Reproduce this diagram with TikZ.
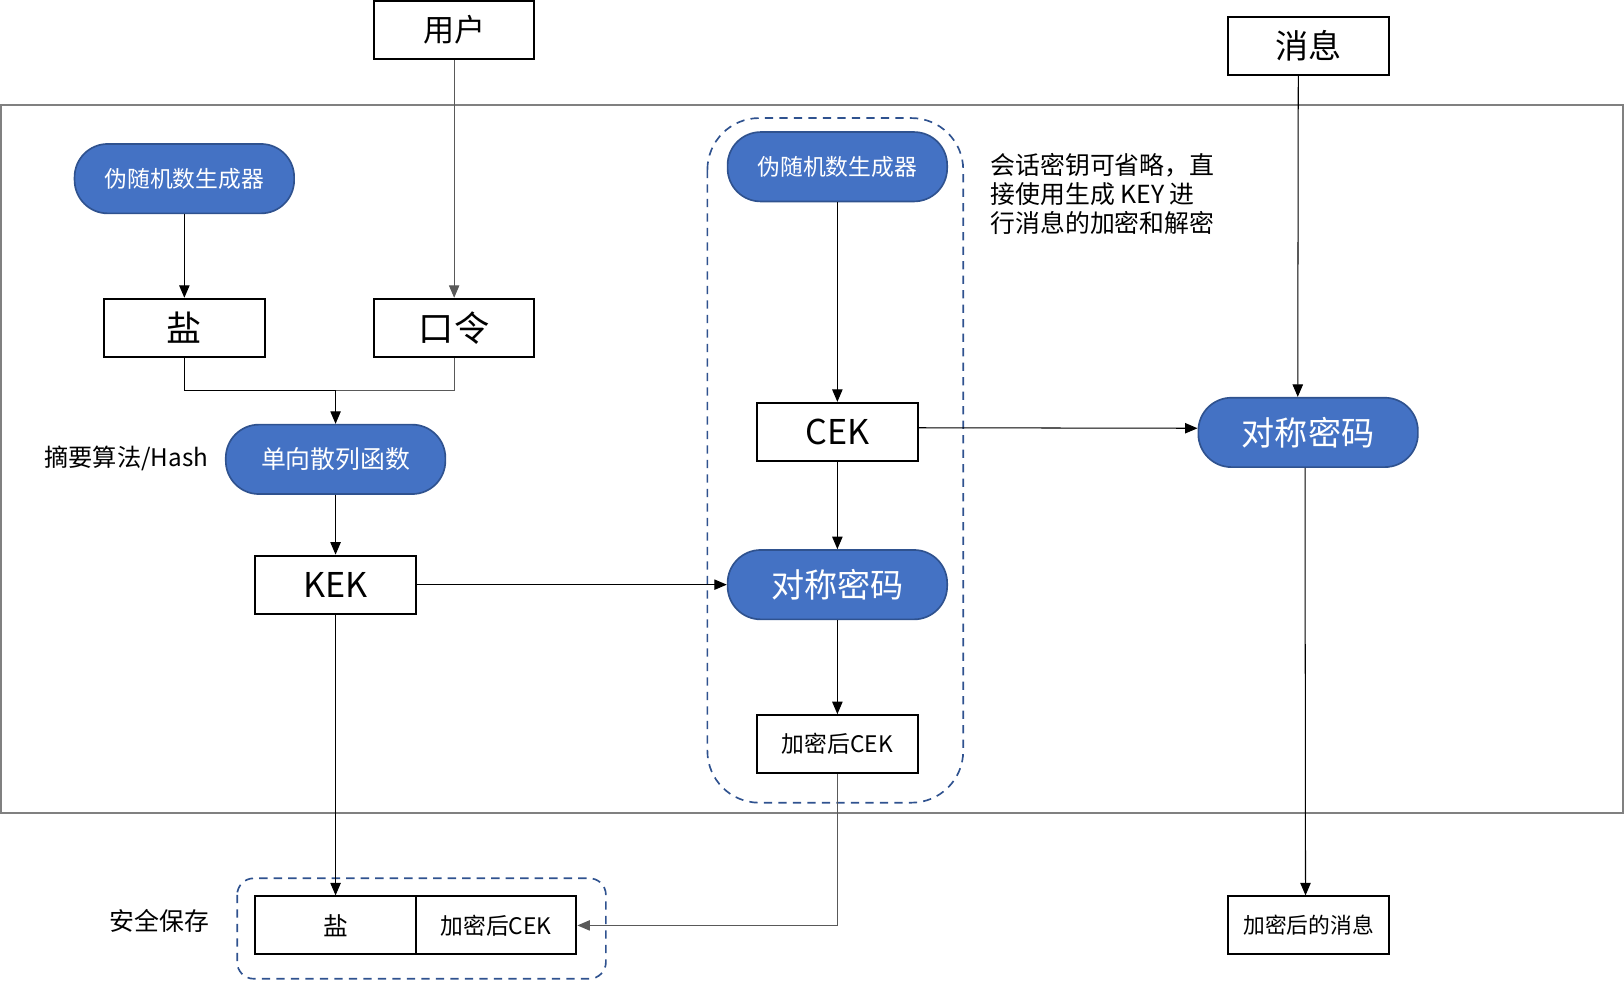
\documentclass[tikz,border=0pt]{standalone}
\usepackage{fontspec}
\setmainfont{Noto Sans CJK SC}
\usetikzlibrary{arrows.meta,calc}
\definecolor{pillfill}{HTML}{4472C4}
\definecolor{pillline}{HTML}{2F528F}
\definecolor{framegray}{HTML}{808080}
\definecolor{linegray}{HTML}{595959}
\begin{document}
\begin{tikzpicture}[x=0.5pt,y=-0.5pt,
 box/.style={draw=black,line width=1pt,minimum width=77.5pt,minimum height=28pt,inner sep=0pt,fill=white},
 pill/.style={draw=pillline,line width=0.8pt,fill=pillfill,text=white,rounded corners=16pt,minimum width=106pt,minimum height=33.5pt,inner sep=0pt},
 conn/.style={line width=0.5pt,-{Triangle[length=6pt,width=5pt]}},
 plainline/.style={line width=0.5pt},
 grp/.style={draw=pillline,line width=0.8pt,dash pattern=on 4pt off 3pt},
 lbl/.style={inner sep=0pt,font=\fontsize{12}{14}\selectfont}
]
\useasboundingbox (0,0) rectangle (1568,947);
% frame
\draw[framegray,line width=1pt] (1,101) rectangle (1567,785);
% groups
\draw[grp,rounded corners=25pt] (683,114) rectangle (930,775);
\draw[grp,rounded corners=8pt] (229,848) rectangle (585,945);
% nodes
\node[box,font=\fontsize{15}{18}\selectfont] (user) at (438.5,29) {用户};
\node[box,font=\fontsize{16}{18}\selectfont] (msg) at (1263.5,44) {消息};
\node[pill,font=\fontsize{11}{13}\selectfont] (prl) at (178,172.5) {伪随机数生成器};
\node[box,font=\fontsize{17}{19}\selectfont] (saltA) at (178,316.5) {盐};
\node[box,font=\fontsize{17}{19}\selectfont] (pw) at (438.5,316.5) {口令};
\node[pill,font=\fontsize{12}{14}\selectfont] (hash) at (324,443.5) {单向散列函数};
\node[lbl,font=\fontsize{11.7}{14}\selectfont] (hashlbl) at (122,443) {摘要算法/Hash};
\node[box,font=\fontsize{16.5}{19}\selectfont] (kek) at (324,564.5) {KEK};
\node[pill,font=\fontsize{16}{18}\selectfont] (symA) at (808.5,564.5) {对称密码};
\node[pill,font=\fontsize{11}{13}\selectfont] (prm) at (808.5,161) {伪随机数生成器};
\node[box,font=\fontsize{16.5}{19}\selectfont] (cek) at (808.5,417) {CEK};
\node[box,font=\fontsize{11}{13}\selectfont] (enccek) at (808.5,718.5) {加密后CEK};
\node[pill,font=\fontsize{16}{18}\selectfont] (symB) at (1263,417.5) {对称密码};
\node[box,font=\fontsize{10.5}{12}\selectfont] (encmsg) at (1263.5,893.5) {加密后的消息};
\node[box,font=\fontsize{12}{14}\selectfont] (saltB) at (324,893.5) {盐};
\node[box,font=\fontsize{11}{13}\selectfont] (enccekB) at (479,893.5) {加密后CEK};
\node[lbl] (safe) at (154,889) {安全保存};
\node[lbl,anchor=north west,align=left] (note) at (956,148) {会话密钥可省略，直\\接使用生成 KEY 进\\行消息的加密和解密};
% connectors
\coordinate (j) at (324,377);
\draw[conn,linegray] (user.south) -- (pw.north);
\draw[conn] (prl.south) -- (saltA.north);
\draw[plainline] (saltA.south) |- (j);
\draw[plainline,linegray] (pw.south) |- (j);
\draw[conn] (j) -- (hash.north);
\draw[conn] (hash.south) -- (kek.north);
\draw[conn] (kek.east) -- (symA.west);
\draw[conn] (kek.south) -- (saltB.north);
\draw[conn] (prm.south) -- (cek.north);
\draw[conn] (cek.south) -- (symA.north);
\draw[conn] (symA.south) -- (enccek.north);
\draw[conn,linegray] (enccek.south) |- (enccekB.east);
\draw[conn] ([yshift=2pt]cek.east) -- ([yshift=2pt]symB.west);
\draw[conn] ([xshift=-5pt]msg.south) -- ([xshift=-5pt]symB.north);
\draw[conn] ([xshift=-1.5pt]symB.south) -- ([xshift=-1.5pt]encmsg.north);
\end{tikzpicture}
\end{document}
